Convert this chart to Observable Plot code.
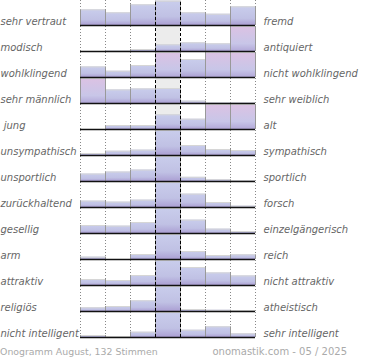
<!DOCTYPE html>
<html><head><meta charset="utf-8">
<script src="https://cdn.jsdelivr.net/npm/d3@7"></script>
<script src="https://cdn.jsdelivr.net/npm/@observablehq/plot@0.6"></script>
<style>
body{margin:0;background:#fff;font-family:"DejaVu Sans",sans-serif;}
#chart{position:relative;width:370px;height:360px;overflow:hidden}
#chart svg{position:absolute;left:0;top:-1px}
.foot{position:absolute;top:346px;font-size:10px;color:#aaa;line-height:12px;white-space:nowrap;font-family:"DejaVu Sans",sans-serif}
</style></head><body><div id="chart"></div>
<script>
// Semantic differential: left pole, right pole
const leftLabels = ["sehr vertraut","modisch","wohlklingend","sehr männlich","\u00a0jung","unsympathisch","unsportlich","zurückhaltend","gesellig","arm","attraktiv","religiös","nicht intelligent"];
const rightLabels = ["fremd","antiquiert","nicht wohlklingend","sehr weiblich","alt","sympathisch","sportlich","forsch","einzelgängerisch","reich","nicht attraktiv","atheistisch","sehr intelligent"];
const columns = [1,2,3,4,5,6,7];
// bar heights per row (25 = full row; larger = off scale)
const r01 = [15.7, 12.7, 20.7, 24.3, 12.7, 11.3, 18.7];
const r02 = [0, 0.5, 2, 6.7, 8.7, 7.7, 30];
const r03 = [10.6, 6.3, 12, 30, 18, 30, 30];
const r04 = [30, 13.6, 14.6, 15, 2.4, 0.5, 0.5];
const r05 = [0, 4, 4, 14.7, 10.3, 30, 30];
const r06 = [2, 4.3, 5.4, 25, 10, 6, 5];
const r07 = [7.5, 9.5, 11.5, 25, 4.2, 1.8, 0.8];
const r08 = [6.4, 5.4, 7.4, 25, 13.4, 5, 1.4];
const r09 = [8, 7.4, 11, 25, 13.4, 4.4, 2];
const r10 = [2.4, 0, 5, 25, 8, 4, 4.7];
const r11 = [6, 5, 10, 25, 18, 12.6, 9.6];
const r12 = [3.7, 5, 10.7, 25, 2, 1.3, 1];
const r13 = [2, 1, 5.3, 25, 7.3, 10.7, 3.7];
const cap = 25;
const footerLeft = "Onogramm August, 132 Stimmen";
const footerRight = "onomastik.com - 05 / 2025";

const series = [r01,r02,r03,r04,r05,r06,r07,r08,r09,r10,r11,r12,r13];
const rows = leftLabels.map((l,i)=>({row:i, left:l, right:rightLabels[i]}));
const bars = series.flatMap((vals,i)=>vals.map((v,j)=>({row:i, col:j, v, h:Math.min(v,cap)}))).filter(d=>d.v>0);
const n = columns.length, mid = Math.floor(n/2);
const bounds = d3.range(n+1);
const dotted = rows.flatMap(r=>bounds.filter(b=>b!==mid && b!==mid+1).map(x=>({row:r.row,x})));
const dashed = rows.flatMap(r=>[mid, mid+1].map(x=>({row:r.row,x})));

const plot = Plot.plot({
  width:370, height:338, marginTop:0, marginBottom:0, marginLeft:80, marginRight:115,
  x:{domain:[0,n], axis:null},
  y:{domain:[0,cap+1], axis:null},
  fy:{domain:d3.range(rows.length), padding:0, axis:null},
  style:{fontFamily:"DejaVu Sans", fontSize:"10px", background:"white", overflow:"visible"},
  marks:[
    Plot.rect(rows, {fy:"row", x1:mid, x2:mid+1, y1:0, y2:cap+1, fill:"#ececec"}),
    Plot.ruleX(dotted, {fy:"row", x:"x", y1:0, y2:cap+1, stroke:"#888", strokeDasharray:"1,2"}),
    Plot.rect(bars, {filter:d=>d.v<=cap, fy:"row", x1:"col", x2:d=>d.col+1, y1:0, y2:"h", fill:"url(#gBlue)"}),
    Plot.rect(bars, {filter:d=>d.v>cap, fy:"row", x1:"col", x2:d=>d.col+1, y1:0, y2:"h", fill:"url(#gPink)"}),
    Plot.ruleY(bars, {fy:"row", y:"h", x1:"col", x2:d=>d.col+1, stroke:"#d6d6d6"}),
    Plot.ruleX(bars, {fy:"row", x:"col", y1:0, y2:"h", stroke:"#999"}),
    Plot.ruleX(bars, {fy:"row", x:d=>d.col+1, y1:0, y2:"h", stroke:"#999"}),
    Plot.ruleX(dashed, {fy:"row", x:"x", y1:0, y2:cap+1, stroke:"#000", strokeDasharray:"3,2"}),
    Plot.ruleY(rows, {fy:"row", y:0, x1:0, x2:n, stroke:"#111", strokeWidth:1.6}),
    Plot.text(rows, {fy:"row", text:"left", frameAnchor:"bottom-left", textAnchor:"start", lineAnchor:"bottom", dx:-80, dy:-1, fill:"#666", fontStyle:"italic"}),
    Plot.text(rows, {fy:"row", text:"right", frameAnchor:"bottom-right", textAnchor:"start", lineAnchor:"bottom", dx:8, dy:-1, fill:"#666", fontStyle:"italic"})
  ]
});
d3.select(plot).insert("defs", ":first-child").html(`
<linearGradient id="gBlue" x1="0" y1="0" x2="0" y2="1">
  <stop offset="0" stop-color="#c9cdec"/><stop offset="0.65" stop-color="#c0c1e4"/><stop offset="1" stop-color="#ab9fd3"/>
</linearGradient>
<linearGradient id="gPink" x1="0" y1="0" x2="0" y2="1">
  <stop offset="0" stop-color="#dcc2e3"/><stop offset="0.7" stop-color="#c8c6e8"/><stop offset="1" stop-color="#b2a8d8"/>
</linearGradient>`);
const chart = document.getElementById("chart");
chart.appendChild(plot);
const fl = document.createElement("div"); fl.className="foot"; fl.style.left="0px"; fl.style.fontSize="9.4px"; fl.textContent=footerLeft; chart.appendChild(fl);
const fr = document.createElement("div"); fr.className="foot"; fr.style.right="23px"; fr.textContent=footerRight; chart.appendChild(fr);
</script></body></html>
